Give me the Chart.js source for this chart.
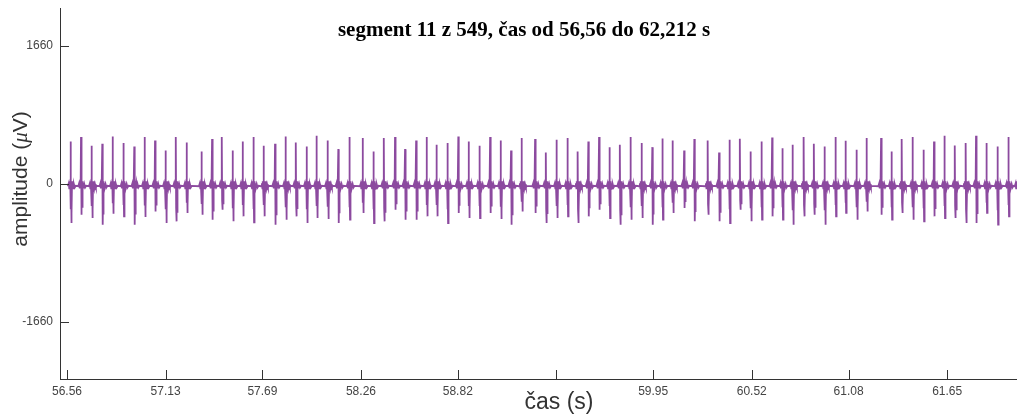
<!DOCTYPE html>
<html>
<head>
<meta charset="utf-8">
<script src="https://cdn.jsdelivr.net/npm/chart.js@4.4.1/dist/chart.umd.min.js"></script>
<style>
  html, body { margin: 0; padding: 0; background: #fff; }
  #wrap { width: 1017px; height: 414px; position: relative; }
</style>
</head>
<body>
<div id="wrap"><canvas id="ecg" width="1017" height="414"></canvas></div>
<script>
// axis ranges and ticks
const xRange = [56.5195, 62.054];
const yRange = [-2352, 2117];
const xTicks = [56.56, 57.13, 57.69, 58.26, 58.82, 59.39, 59.95, 60.52, 61.08, 61.65];
const xTickHidden = [59.39];
const yTicks = [-1660, 0, 1660];

const titleText = 'segment 11 z 549, čas od 56,56 do 62,212 s';
const xTitle = 'čas (s)';

// beat times (s), positive peaks and negative troughs (µV)
const beatTimes = [
  56.581, 56.641, 56.703, 56.764, 56.824, 56.886, 56.949, 57.009, 57.069, 57.131,
  57.190, 57.252, 57.339, 57.399, 57.456, 57.518, 57.576, 57.638, 57.698, 57.763,
  57.825, 57.884, 57.946, 58.004, 58.068, 58.129, 58.193, 58.270, 58.332, 58.393,
  58.457, 58.515, 58.579, 58.640, 58.698, 58.760, 58.823, 58.883, 58.945, 59.007,
  59.068, 59.128, 59.190, 59.267, 59.330, 59.392, 59.454, 59.514, 59.575, 59.637,
  59.697, 59.758, 59.820, 59.884, 59.945, 60.003, 60.063, 60.129, 60.188, 60.266,
  60.331, 60.391, 60.452, 60.514, 60.576, 60.638, 60.697, 60.757, 60.821, 60.880,
  60.942, 61.004, 61.062, 61.127, 61.185, 61.268, 61.328, 61.388, 61.451, 61.513,
  61.574, 61.634, 61.695, 61.758, 61.817, 61.877, 61.941, 62.004, 62.057
];
const beatUp = [
  509, 562, 457, 481, 569, 490, 449, 562, 521, 401,
  562, 497, 389, 538, 562, 401, 509, 562, 457, 481,
  569, 497, 449, 577, 521, 417, 562, 550, 389, 550,
  562, 417, 521, 562, 469, 490, 569, 509, 457, 562,
  521, 401, 550, 538, 377, 529, 550, 389, 509, 562,
  441, 469, 562, 490, 441, 545, 521, 401, 538, 521,
  377, 529, 541, 389, 509, 557, 429, 469, 562, 481,
  449, 562, 517, 409, 550, 550, 389, 538, 562, 409,
  509, 577, 461, 490, 577, 490, 449, 562, 150
];
const beatDown = [
  -473, -373, -413, -493, -361, -393, -493, -401, -333, -473,
  -453, -352, -373, -433, -313, -453, -393, -466, -393, -493,
  -433, -393, -473, -413, -425, -473, -433, -352, -473, -453,
  -313, -433, -433, -393, -393, -473, -352, -413, -413, -352,
  -425, -493, -333, -352, -473, -413, -393, -473, -393, -313,
  -413, -493, -433, -413, -493, -433, -352, -292, -453, -373,
  -453, -473, -313, -453, -433, -393, -433, -493, -393, -373,
  -493, -393, -352, -433, -333, -373, -433, -352, -433, -453,
  -393, -413, -413, -473, -473, -352, -493, -393, -100
];

// shape of one beat: [dt (s), share of peak, share of trough, offset µV]
const beatShape = [
  [-0.016, 0, 0, -30], [-0.011, 0, 0, 5], [-0.008, 0, 0, -55], [-0.006, 0, 0, 30],
  [-0.004, 0, 0, -45], [-0.002, 0, 0, 25], [0, 1, 0, 0], [0.0012, 0, 0.65, 0],
  [0.0025, 0, 0, 15], [0.0038, 0, 1, 0], [0.005, 0, 0, -15], [0.0065, 0, 0.75, 0],
  [0.008, 0, 0, 30], [0.010, 0, 0, -60], [0.012, 0, 0, 5], [0.015, 0, 0, -55],
  [0.019, 0, 0, -5], [0.024, 0, 0, -45], [0.030, 0, 0, -25]
];

const points = [];
beatTimes.forEach((t, i) => {
  beatShape.forEach(([dt, fu, fd, off]) => {
    points.push({ x: t + dt, y: fu * beatUp[i] + fd * beatDown[i] + off });
  });
});

const AXIS = '#333';

// inner tick marks and the free-placed texts
const decor = {
  id: 'decor',
  afterDraw(chart) {
    const { ctx, chartArea: a, scales: { x, y } } = chart;
    ctx.save();
    ctx.strokeStyle = AXIS;
    ctx.lineWidth = 1;
    ctx.beginPath();
    xTicks.forEach(v => {
      const px = Math.round(x.getPixelForValue(v)) + 0.5;
      ctx.moveTo(px, a.bottom); ctx.lineTo(px, a.bottom - 9);
    });
    yTicks.forEach(v => {
      const py = Math.round(y.getPixelForValue(v)) + 0.5;
      ctx.moveTo(a.left, py); ctx.lineTo(a.left + 9, py);
    });
    ctx.stroke();

    ctx.fillStyle = '#000';
    ctx.textAlign = 'center';
    ctx.textBaseline = 'middle';
    ctx.font = 'bold 21px "Liberation Serif", "Times New Roman", serif';
    ctx.fillText(titleText, 524, 31);

    ctx.fillStyle = '#333';
    ctx.font = '23px "Liberation Sans", Arial, sans-serif';
    ctx.fillText(xTitle, 559, 403);

    // y title with italic mu
    ctx.save();
    ctx.translate(21, 179);
    ctx.rotate(-Math.PI / 2);
    const f = '21px "Liberation Sans", Arial, sans-serif';
    const fi = 'italic 21px "Liberation Serif", serif';
    const parts = [['amplitude (', f], ['μ', fi], ['V)', f]];
    let w = 0;
    parts.forEach(([s, ff]) => { ctx.font = ff; w += ctx.measureText(s).width; });
    let cx = -w / 2;
    ctx.textAlign = 'left';
    parts.forEach(([s, ff]) => { ctx.font = ff; ctx.fillText(s, cx, 0); cx += ctx.measureText(s).width; });
    ctx.restore();
    ctx.restore();
  }
};

new Chart(document.getElementById('ecg'), {
  type: 'line',
  data: {
    datasets: [{
      data: points,
      borderColor: 'rgba(115, 34, 138, 0.82)',
      borderWidth: 1.8,
      pointRadius: 0,
      tension: 0,
      fill: false
    }]
  },
  options: {
    responsive: false,
    animation: false,
    devicePixelRatio: 1,
    parsing: false,
    layout: { padding: { top: 8, right: 0, left: 0, bottom: 0 } },
    plugins: { legend: { display: false }, tooltip: { enabled: false } },
    scales: {
      x: {
        type: 'linear', min: xRange[0], max: xRange[1],
        afterBuildTicks: s => { s.ticks = xTicks.map(v => ({ value: v })); },
        afterFit: s => { s.height = 35; s.paddingLeft = 0; s.paddingRight = 0; },
        grid: { display: true, drawOnChartArea: false, drawTicks: false },
        border: { display: true, color: AXIS, width: 1 },
        ticks: {
          padding: 5, color: '#444', maxRotation: 0, autoSkip: false,
          font: { family: '"Liberation Sans", Arial, sans-serif', size: 12 },
          callback: v => xTickHidden.includes(v) ? '' : v.toFixed(2)
        }
      },
      y: {
        type: 'linear', min: yRange[0], max: yRange[1],
        afterBuildTicks: s => { s.ticks = yTicks.map(v => ({ value: v })); },
        afterFit: s => { s.width = 60; s.paddingTop = 0; s.paddingBottom = 0; },
        grid: { display: true, drawOnChartArea: false, drawTicks: false },
        border: { display: true, color: AXIS, width: 1 },
        ticks: {
          padding: 7, color: '#444', autoSkip: false,
          font: { family: '"Liberation Sans", Arial, sans-serif', size: 12 },
          callback: v => String(v)
        }
      }
    }
  },
  plugins: [decor]
});
</script>
</body>
</html>
